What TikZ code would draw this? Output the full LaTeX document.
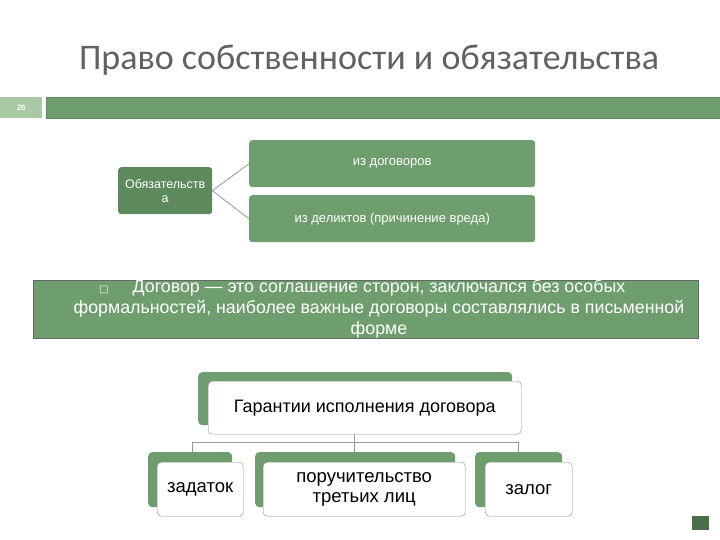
\documentclass[tikz,border=0pt]{standalone}
\usepackage{fontspec}
\setmainfont{Liberation Sans}
\newfontfamily\titlefont{Carlito}
\newfontfamily\symfont{DejaVu Sans}
\definecolor{leaf}{HTML}{6E9E6E}
\definecolor{leafdark}{HTML}{5C8A5C}
\definecolor{leaflight}{HTML}{A9C9A4}
\begin{document}
\begin{tikzpicture}[x=1pt, y=-1pt,
    gbox/.style={draw=none, rectangle, rounded corners=3pt, fill=leaf, text=white, align=center, anchor=north west, inner sep=0pt},
    shade/.style={rectangle, rounded corners=4pt, fill=leaf, anchor=north west, inner sep=0pt},
    wbox/.style={draw=black!45, rectangle, rounded corners=4pt, fill=white, align=center, anchor=north west, inner sep=0pt, font=\fontsize{18.5}{20}\selectfont},
    link/.style={draw=black!35, line width=1pt}
]
\useasboundingbox (0,0) rectangle (720,540);
\node[font=\titlefont\fontsize{36}{40}\selectfont, text=black!62] (title) at (369,60) {Право собственности и обязательства};
\node[rectangle, fill=leaflight, minimum width=42pt, minimum height=21pt, anchor=north west, inner sep=0pt, text=white, font=\fontsize{8}{9}\selectfont\bfseries] (page) at (0,97) {26};
\node[rectangle, fill=leaf, draw=leafdark, minimum width=674pt, minimum height=21pt, anchor=north west, inner sep=0pt] (bar) at (46,97) {};

\node[gbox, fill=leafdark, minimum width=94pt, minimum height=47pt, font=\fontsize{12.5}{14}\selectfont] (obl) at (118,167) {Обязательств\\а};
\node[gbox, minimum width=286pt, minimum height=47pt, font=\fontsize{13}{15}\selectfont] (contr) at (249,140) {из договоров};
\node[gbox, minimum width=286pt, minimum height=47pt, font=\fontsize{13}{15}\selectfont] (delict) at (249,195) {из деликтов (причинение вреда)};
\draw[link] (obl.east) -- (contr.west);
\draw[link] (obl.east) -- (delict.west);

\node[rectangle, fill=leaf, draw=black!60, minimum width=665pt, minimum height=58pt, anchor=north west, inner sep=0pt] (def) at (33,280) {};
\node[text=white, align=center, font=\fontsize{17.8}{21}\selectfont, anchor=north] (deftext) at (379,276) {\llap{{\symfont\fontsize{10}{10}\selectfont □}\hspace{24pt}}Договор — это соглашение сторон, заключался без особых\\формальностей, наиболее важные договоры составлялись в письменной\\форме};

\node[shade, minimum width=314pt, minimum height=53pt] (gshade) at (198,372) {};
\node[wbox, minimum width=313pt, minimum height=53pt, font=\fontsize{18}{20}\selectfont] (guar) at (208,381) {Гарантии исполнения договора};

\node[shade, minimum width=84pt, minimum height=55pt] (s1) at (148,452) {};
\node[wbox, minimum width=86pt, minimum height=54pt] (dep) at (157,462) {задаток};
\node[shade, minimum width=200pt, minimum height=55pt] (s2) at (255,452) {};
\node[wbox, minimum width=202pt, minimum height=54pt] (surety) at (263,462) {поручительство\\третьих лиц};
\node[shade, minimum width=87pt, minimum height=55pt] (s3) at (475,452) {};
\node[wbox, minimum width=87pt, minimum height=54pt] (pledge) at (485,462) {залог};

\coordinate (fork) at (354,442);
\draw[link, draw=black!40] (guar.south -| fork) -- (fork);
\draw[link, draw=black!40] (192,442) -- (518,442);
\draw[link, draw=black!40] (192,442) -- (s1.north -| 192,0);
\draw[link, draw=black!40] (fork) -- (s2.north -| fork);
\draw[link, draw=black!40] (518,442) -- (s3.north -| 518,0);

\node[rectangle, fill=leafdark!80!black, minimum width=17pt, minimum height=14pt, anchor=north west, inner sep=0pt] (icon) at (692,516) {};
\end{tikzpicture}
\end{document}
